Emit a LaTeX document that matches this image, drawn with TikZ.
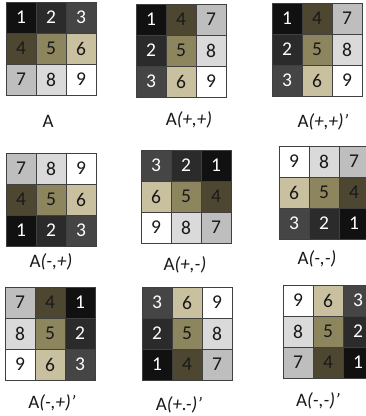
\documentclass[tikz,border=0pt]{standalone}
\usepackage{fontspec}
\setmainfont{Carlito}
\usepackage{tikz}
\usepackage{xcolor}

\definecolor{tone1}{HTML}{111111}
\definecolor{tone2}{HTML}{2B2B2B}
\definecolor{tone3}{HTML}{454545}
\definecolor{tone4}{HTML}{4D4731}
\definecolor{tone5}{HTML}{8C855D}
\definecolor{tone6}{HTML}{C9C09F}
\definecolor{tone7}{HTML}{BEBEBE}
\definecolor{tone8}{HTML}{DADADA}
\definecolor{tone9}{HTML}{FFFFFF}

% one 3x3 grid: name, left, top, the nine digits row by row
\newcommand{\numgrid}[4]{%
  \foreach \d [count=\k from 0] in {#4} {%
    \pgfmathtruncatemacro{\gc}{mod(\k,3)}%
    \pgfmathtruncatemacro{\gr}{div(\k,3)}%
    \node[cell,c\d] (#1-\d) at ({#2+30*\gc+15},{#3+31*\gr+15.5}) {\d};
  }%
}

\begin{document}
\begin{tikzpicture}[
  x=1pt, y=-1pt,
  cell/.style={draw=black!75,line width=0.7pt,minimum width=30pt,
               minimum height=31pt,inner sep=0pt,
               font=\fontsize{19.5}{19.5}\selectfont},
  dark/.style={text=white},
  light/.style={text=black!90},
  c1/.style={fill=tone1,dark},
  c2/.style={fill=tone2,dark},
  c3/.style={fill=tone3,dark},
  c4/.style={fill=tone4,light},
  c5/.style={fill=tone5,light},
  c6/.style={fill=tone6,light},
  c7/.style={fill=tone7,light},
  c8/.style={fill=tone8,light},
  c9/.style={fill=tone9,light},
  lbl/.style={font=\fontsize{19}{19}\selectfont,text=black!90}
]
\useasboundingbox[fill=white] (0,0) rectangle (366,416);

% first row
\numgrid{gA}{6}{2}{1,2,3,4,5,6,7,8,9}
\numgrid{gPP}{136}{4}{1,4,7,2,5,8,3,6,9}
\numgrid{gPPp}{272}{3}{1,4,7,2,5,8,3,6,9}
\node[lbl] (lA) at (48,121) {A};
\node[lbl] (lPP) at (189,120) {A\textit{(+,+)}};
\node[lbl] (lPPp) at (323,122) {A\textit{(+,+)’}};

% second row
\numgrid{gMP}{6}{153}{7,8,9,4,5,6,1,2,3}
\numgrid{gPM}{141}{150}{3,2,1,6,5,4,9,8,7}
\numgrid{gMM}{279}{146}{9,8,7,6,5,4,3,2,1}
\node[lbl] (lMP) at (51,262) {A\textit{(-,+)}};
\node[lbl] (lPM) at (185,265) {A\textit{(+,-)}};
\node[lbl] (lMM) at (317,259) {A\textit{(-,-)}};

% third row
\numgrid{gMPp}{5}{287}{7,4,1,8,5,2,9,6,3}
\numgrid{gPMp}{142}{287}{3,6,9,2,5,8,1,4,7}
\numgrid{gMMp}{283}{285}{9,6,3,8,5,2,7,4,1}
\node[lbl] (lMPp) at (52,403) {A\textit{(-,+)’}};
\node[lbl] (lPMp) at (179,405) {A\textit{(+.-)’}};
\node[lbl] (lMMp) at (318,401) {A\textit{(-,-)’}};
\end{tikzpicture}
\end{document}
